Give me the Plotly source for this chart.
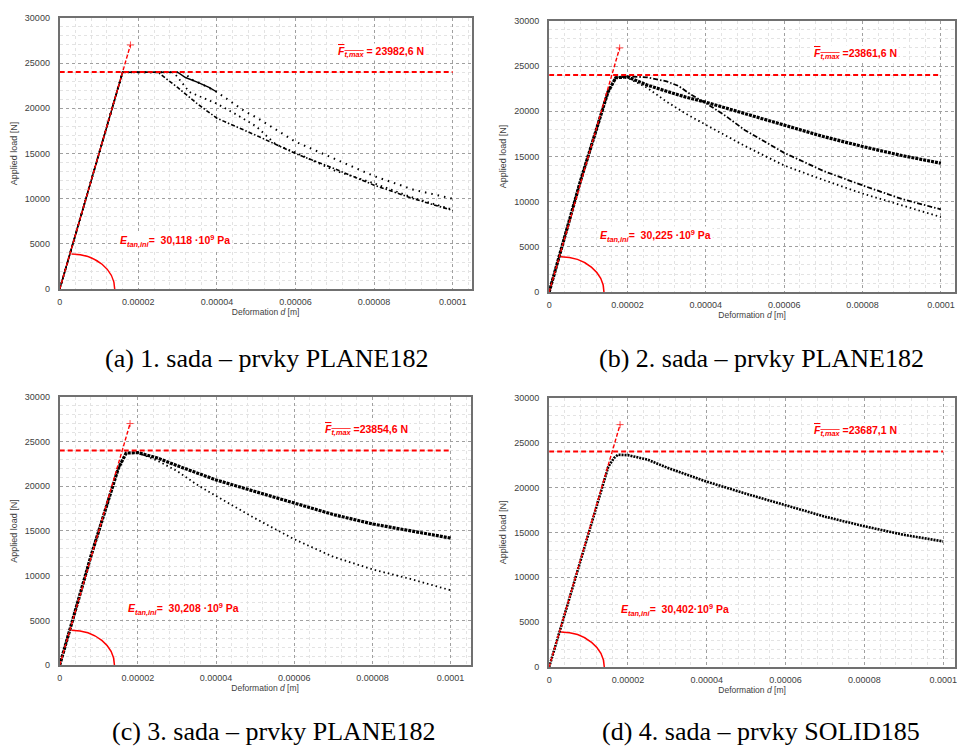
import plotly.graph_objects as go

# ---------------- data ----------------
x_ticks = [0, 0.00002, 0.00004, 0.00006, 0.00008, 0.0001]
x_ticklabels = ["0", "0.00002", "0.00004", "0.00006", "0.00008", "0.0001"]
y_ticks = [0, 5000, 10000, 15000, 20000, 25000, 30000]
y_ticklabels = ["0", "5000", "10000", "15000", "20000", "25000", "30000"]

captions = ["(a) 1. sada – prvky PLANE182", "(b) 2. sada – prvky PLANE182",
            "(c) 3. sada – prvky PLANE182", "(d) 4. sada – prvky SOLID185"]
fmax_texts = ["= 23982,6 N", "=23861,6 N", "=23854,6 N", "=23687,1 N"]
etan_texts = ["=  30,118 ·10<sup>9</sup> Pa", "=  30,225 ·10<sup>9</sup> Pa",
              "=  30,208 ·10<sup>9</sup> Pa", "=  30,402·10<sup>9</sup> Pa"]

# red construction lines
tangent_x = [0, 0.000018]
tangent_y = [0, 27000]
fmax_line_x = [0, 0.0001]
fmax_line_y = [24000, 24000]

# panel (a)
a1_x = [0, 0.000008, 0.000016, 0.000025, 0.00003, 0.000035, 0.00004, 0.00005, 0.00006, 0.00007, 0.00008, 0.00009, 0.0001]
a1_y = [0, 12000, 23982, 23982, 22300, 20500, 18900, 17000, 15000, 13300, 11500, 10000, 8700]
a2_x = [0, 0.000016, 0.000029, 0.000033, 0.00004, 0.000045, 0.00005, 0.000055, 0.00006, 0.00007, 0.00008, 0.00009, 0.0001]
a2_y = [0, 23982, 23982, 21800, 20500, 19300, 18000, 16000, 15100, 13100, 11700, 10100, 8800]
a3_x = [0, 0.000016, 0.000032, 0.000033, 0.000036, 0.00004, 0.000047, 0.00005, 0.00006, 0.00007, 0.00008, 0.00009, 0.0001]
a3_y = [0, 23982, 23982, 23300, 22700, 21800, 19700, 19000, 16300, 14400, 12500, 11000, 10000]
a4_x = [0, 0.000016, 0.00003, 0.000032, 0.000035, 0.000038, 0.00004]
a4_y = [0, 23982, 23982, 23400, 22900, 22300, 21800]

# panel (b)
b1_x = [0, 0.000008, 0.000015, 0.000017, 0.00002, 0.000025, 0.00003, 0.000035, 0.00004, 0.00005, 0.00006, 0.00007, 0.00008, 0.00009, 0.0001]
b1_y = [0, 12300, 22100, 23700, 23800, 22900, 22200, 21550, 21000, 19750, 18500, 17200, 16100, 15100, 14250]
b2_x = [0, 0.000008, 0.000015, 0.000017, 0.00002, 0.000025, 0.00003, 0.000033, 0.000036, 0.00004, 0.000045, 0.00005, 0.00006, 0.00007, 0.00008, 0.00009, 0.0001]
b2_y = [0, 12300, 22100, 23700, 23860, 23750, 23300, 22800, 21900, 20900, 19500, 17900, 15400, 13400, 11800, 10300, 9150]
b3_x = [0, 0.000008, 0.000015, 0.000017, 0.00002, 0.000025, 0.00003, 0.000035, 0.00004, 0.00005, 0.00006, 0.00007, 0.00008, 0.00009, 0.0001]
b3_y = [0, 12300, 22100, 23700, 23700, 22600, 21050, 19700, 18500, 16150, 14000, 12400, 10900, 9600, 8300]

# panel (c)
c1_x = [0, 0.000008, 0.000015, 0.000017, 0.00002, 0.000025, 0.00003, 0.00004, 0.00005, 0.00006, 0.00007, 0.00008, 0.00009, 0.0001]
c1_y = [0, 12200, 22000, 23700, 23750, 23150, 22300, 20700, 19400, 18100, 16830, 15780, 14950, 14200]
c2_x = [0, 0.000008, 0.000015, 0.000017, 0.00002, 0.000025, 0.00003, 0.000035, 0.00004, 0.00005, 0.00006, 0.00007, 0.00008, 0.00009, 0.0001]
c2_y = [0, 12200, 22000, 23700, 23750, 22850, 21700, 20200, 18900, 16400, 14070, 12100, 10700, 9600, 8360]

# panel (d)
d1_x = [0, 0.000005, 0.00001, 0.000015, 0.0000165, 0.0000175, 0.00002, 0.000025, 0.00003, 0.00004, 0.00005, 0.00006, 0.00007, 0.00008, 0.00009, 0.0001]
d1_y = [0, 7500, 15000, 22300, 23300, 23650, 23600, 23100, 22200, 20650, 19300, 18050, 16750, 15680, 14730, 13990]

# ---------------- layout geometry ----------------
W, H = 957, 751
panels = [
    dict(x=(57, 471), y=(13, 288), xmax=0.0001048),
    dict(x=(549, 957), y=(16, 291), xmax=0.0001036),
    dict(x=(57, 470), y=(397, 669), xmax=0.0001051),
    dict(x=(549, 957), y=(398, 671), xmax=0.000103),
]
fmax_pos = [(0.0000818, 26180), (0.0000782, 26290), (0.0000784, 26250), (0.0000778, 26260)]
etan_pos = [(0.0000294, 5345), (0.0000272, 6218), (0.0000316, 6287), (0.000032, 6374)]
caption_pos = [(265, 358), (762, 358), (272, 736), (762, 736)]

series = [
    [(a1_x, a1_y, "4px,2px,1.5px,2px", 1.6), (a2_x, a2_y, "1.5px,4px", 1.8),
     (a3_x, a3_y, "1.5px,5px", 2.0), (a4_x, a4_y, "solid", 1.4)],
    [(b1_x, b1_y, "3px,1px", 3.2), (b2_x, b2_y, "5px,2px,1.5px,2px", 1.8), (b3_x, b3_y, "1.5px,3px", 1.8)],
    [(c1_x, c1_y, "3px,1px", 3.2), (c2_x, c2_y, "1.5px,3px", 1.8)],
    [(d1_x, d1_y, "2px,1px", 2.6)],
]

fig = go.Figure()
FONT = "Liberation Sans, Arial, sans-serif"
RED = "#ff0000"
shapes = []
annotations = []

for i, p in enumerate(panels):
    n = "" if i == 0 else str(i + 1)
    xa, ya = "x" + n, "y" + n
    xdom = [p["x"][0] / W, p["x"][1] / W]
    ydom = [1 - p["y"][1] / H, 1 - p["y"][0] / H]
    common = dict(showline=True, linecolor="#707070", linewidth=2, mirror=True,
                  showgrid=True, gridcolor="#a0a0a0", griddash="dot", gridwidth=1,
                  zeroline=False, ticks="outside", tickcolor="rgba(0,0,0,0)",
                  tickfont=dict(family=FONT, size=9, color="#404040"))
    fig.layout["xaxis" + n] = dict(
        domain=xdom, range=[0, p["xmax"]], anchor=ya,
        tickvals=x_ticks, ticktext=x_ticklabels, ticklen=3,
        minor=dict(dtick=0.000004, showgrid=True, gridcolor="#e3e3e3", gridwidth=1, ticks=""),
        title=dict(text="Deformation <i>d</i> [m]", font=dict(family=FONT, size=8.5, color="#404040"), standoff=3),
        **common)
    fig.layout["yaxis" + n] = dict(
        domain=ydom, range=[0, 30000], anchor=xa,
        tickvals=y_ticks, ticktext=y_ticklabels, ticklen=6,
        minor=dict(dtick=1000, showgrid=True, gridcolor="#e3e3e3", gridwidth=1, ticks=""),
        title=dict(text="Applied load [N]", font=dict(family=FONT, size=9, color="#404040"), standoff=6),
        **common)

    for (sx, sy, dash, w) in series[i]:
        fig.add_trace(go.Scatter(x=sx, y=sy, mode="lines", xaxis=xa, yaxis=ya,
                                 line=dict(color="black", width=w, dash=dash), showlegend=False,
                                 hoverinfo="skip"))
    # red tangent line
    fig.add_trace(go.Scatter(x=tangent_x, y=tangent_y, mode="lines+markers", xaxis=xa, yaxis=ya,
                             line=dict(color=RED, width=1.4, dash="4px,2px"),
                             marker=dict(symbol=["circle", "cross-thin"], size=[0, 5], color=RED,
                                         line=dict(color=RED, width=1)),
                             showlegend=False, hoverinfo="skip"))
    # red Fmax line
    fig.add_trace(go.Scatter(x=fmax_line_x, y=fmax_line_y, mode="lines", xaxis=xa, yaxis=ya,
                             line=dict(color=RED, width=2, dash="5px,3px"),
                             showlegend=False, hoverinfo="skip"))
    # angle arc
    shapes.append(dict(type="path", xref=xa, yref=ya,
                       path="M 0.000003,3900 C 0.00000907,3900 0.000014,2153 0.000014,0",
                       line=dict(color=RED, width=1.5)))
    fx, fy = fmax_pos[i]
    annotations.append(dict(xref=xa, yref=ya, x=fx, y=fy, showarrow=False, bgcolor="white",
                            text="<b><i><span style='text-decoration:overline'>F<sub>t,max</sub></span></i> "
                                 + fmax_texts[i] + "</b>",
                            font=dict(family=FONT, size=10.5, color=RED)))
    ex, ey = etan_pos[i]
    annotations.append(dict(xref=xa, yref=ya, x=ex, y=ey, showarrow=False, bgcolor="white",
                            text="<b><i>E<sub>tan,ini</sub></i>" + etan_texts[i] + "</b>",
                            font=dict(family=FONT, size=10.5, color=RED)))
    cx, cy = caption_pos[i]
    annotations.append(dict(xref="paper", yref="paper", x=cx / W, y=1 - cy / H, showarrow=False,
                            text=captions[i], xanchor="center", yanchor="middle",
                            font=dict(family="Liberation Serif, Times New Roman, serif", size=26, color="black")))

fig.update_layout(width=W, height=H, margin=dict(l=0, r=0, t=0, b=0),
                  paper_bgcolor="white", plot_bgcolor="white",
                  shapes=shapes, annotations=annotations, showlegend=False)
fig.write_html("out.html")
